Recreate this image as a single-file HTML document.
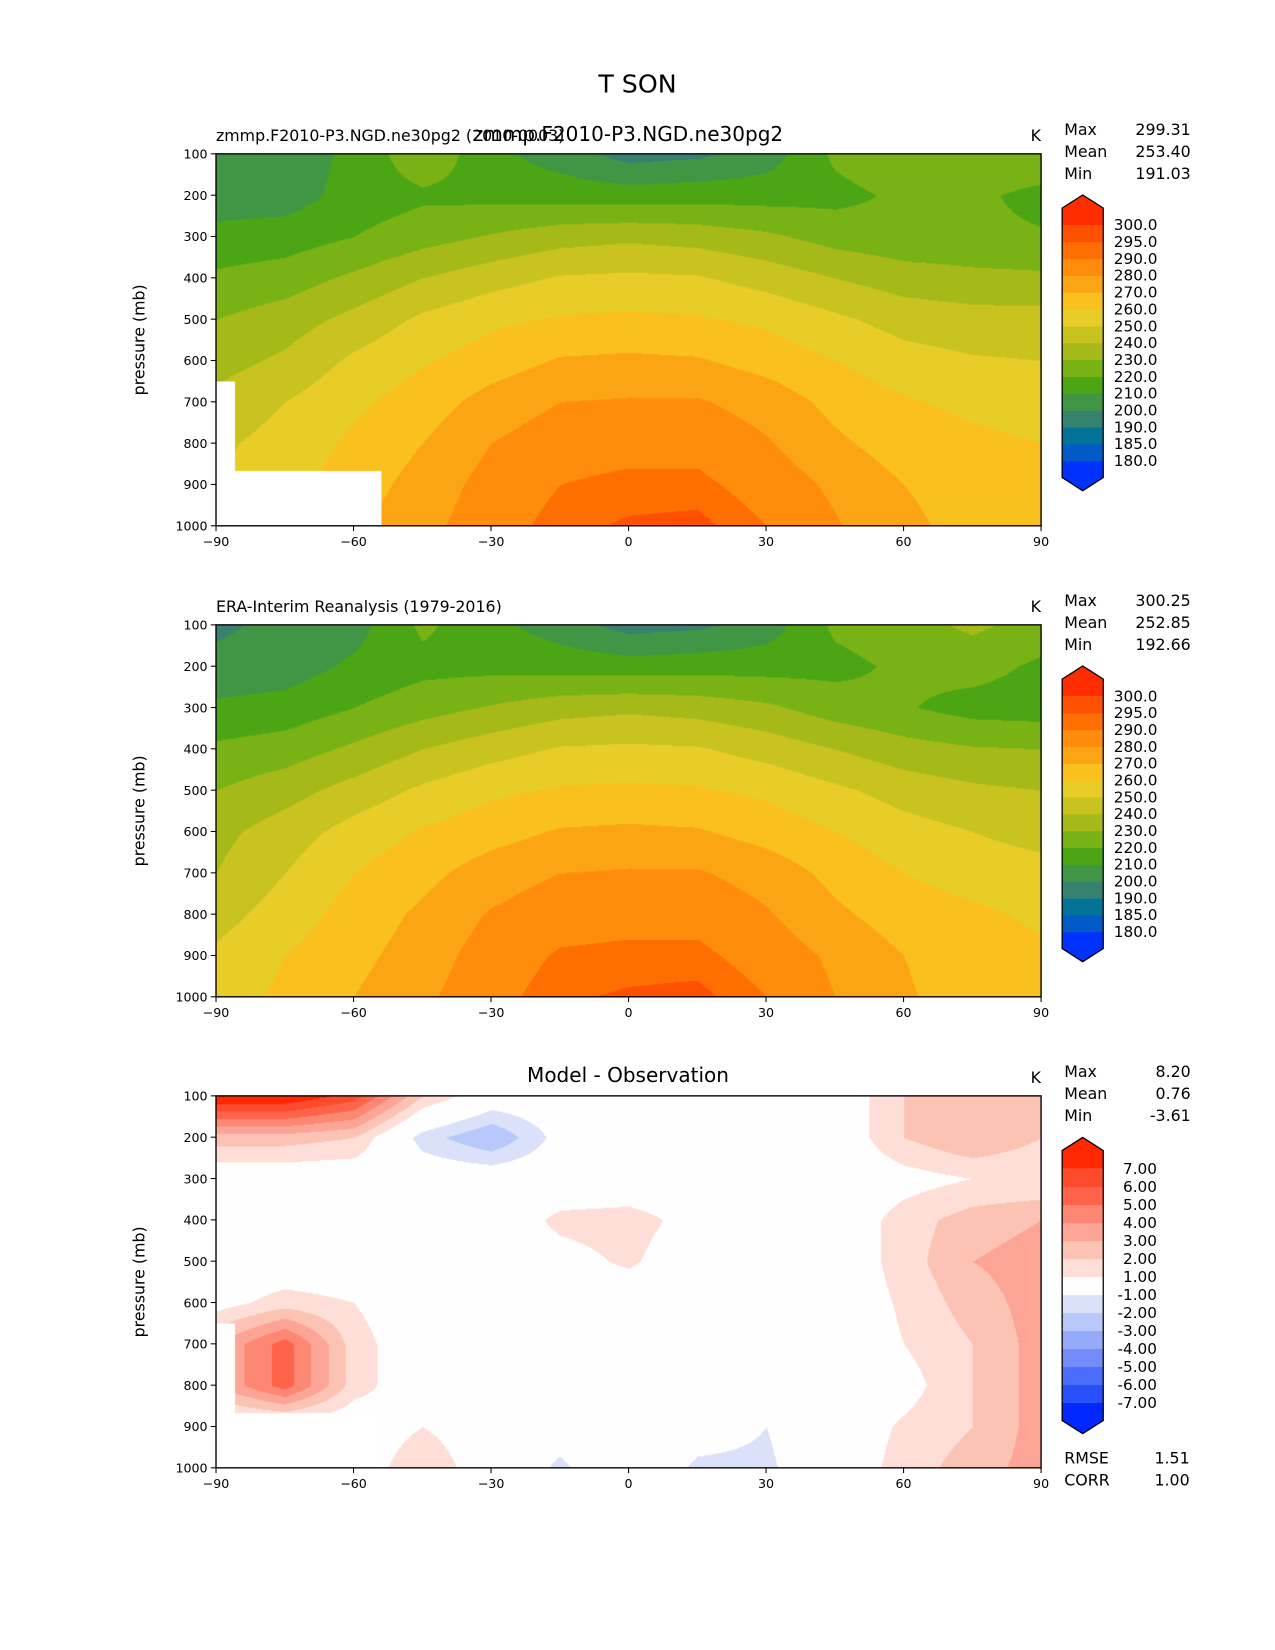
<!DOCTYPE html>
<html><head><meta charset="utf-8"><style>
html,body{margin:0;padding:0;background:#fff;}
#wrap{position:relative;width:1210px;height:1566px;transform:scale(1.05372);transform-origin:0 0;font-family:"DejaVu Sans","Liberation Sans",sans-serif;}
canvas{position:absolute;}
svg{position:absolute;left:0;top:0;}
</style></head><body>
<div id="wrap">
<canvas id="c0" width="783" height="353" style="left:205px;top:146px"></canvas>
<canvas id="c1" width="783" height="353" style="left:205px;top:593px"></canvas>
<canvas id="c2" width="783" height="353" style="left:205px;top:1040px"></canvas>
<svg id="svg" width="1210" height="1566" font-family="DejaVu Sans, Liberation Sans, sans-serif">
<text x="605" y="88" font-size="24" text-anchor="middle">T SON</text>
</svg>
</div>
<script>
const lats=[-90,-75,-60,-45,-30,-15,0,15,30,45,60,75,90];
const pres=[100,200,300,400,500,600,700,800,900,1000];
const modelT=[
[205,205,212,228,213,205,196,198,205,222,228,228,228],
[205,205,214,218,217,216,215,216,216,217,222,222,217],
[213,215,220,226,231,236,238,236,232,226,223,222,221],
[222,225,232,240,246,251,252,251,246,240,235,233,232],
[230,235,243,252,258,261,262,261,258,252,246,244,244],
[236,242,252,259,265,271,272,271,266,260,254,251,250],
[243,250,258,265,274,280,281,281,276,267,261,258,256],
[248,254,262,270,280,286,287,287,281,272,265,262,260],
[250,257,265,274,284,290,292,292,286,278,270,266,262],
[252,259,268,277,286,293,296,297,290,281,272,267,264]];
const obsT=[
[198,203,206,222,213,205,196,198,205,222,226,232,226],
[203,205,212,217,217,216,215,216,216,217,222,224,218],
[212,214,220,226,231,236,238,236,232,225,221,216,215],
[222,225,232,240,246,251,252,251,246,240,234,231,230],
[230,236,244,252,258,261,262,261,258,252,246,242,240],
[237,245,254,261,266,271,272,271,266,260,254,250,246],
[240,250,260,267,275,280,281,281,276,267,260,256,254],
[246,255,264,272,281,286,287,287,281,272,265,262,258],
[252,260,267,275,285,291,292,292,286,278,270,266,262],
[256,262,270,278,287,294,296,297,290,280,271,266,262]];
const diffT=[
[8,8,6.5,2,0,0,0,0,0,0,2,2.5,2],
[2.5,2.5,2,-1.5,-3,-0.5,0,0,-0.5,0,2,3,2],
[0,0,0,0,0,0,0,0,0,0,0.5,1,1],
[0,0,0,0,0,1.3,1.5,0.5,0,0,1.5,2.5,3],
[0,0,0,0,0,0.5,1.2,0,0,0,1.5,3,3.5],
[0.5,1.5,1,0,0,0,0,0,0,0,1.2,2.5,3.5],
[3,5.5,1.5,0,0,0,0,0,0,0,1,2,3.5],
[3,5.5,1.5,0,0,0,0,0,0,0,0.5,2,3.5],
[0,0,0,1,0,-0.5,0,-0.5,-1,0,1.2,2,3.5],
[0,0,0,2,0,-1.2,0,-1.2,-1.2,0,1.5,2.5,3.5]];
const tLevels=[180,185,190,200,210,220,230,240,250,260,270,280,290,295,300];
const tColors=[[0,50,255],[0,90,200],[0,115,150],[55,130,110],[65,150,70],[75,165,20],[120,178,20],[165,185,25],[200,195,30],[232,205,40],[250,192,30],[252,165,20],[255,140,10],[255,110,0],[255,80,0],[255,45,0]];
const dLevels=[-7,-6,-5,-4,-3,-2,-1,1,2,3,4,5,6,7];
const dColors=[[0,40,255],[40,80,250],[75,110,250],[115,140,250],[150,170,250],[185,200,250],[220,225,250],[254,254,254],[254,222,215],[252,195,180],[252,165,150],[252,135,115],[255,100,75],[255,75,45],[255,40,0]];
const panelStats=[["299.31","253.40","191.03"],["300.25","252.85","192.66"],["8.20","0.76","-3.61"]];
const xTicks=[-90,-60,-30,0,30,60,90];
const yTicks=[100,200,300,400,500,600,700,800,900,1000];
const X0=205,W=783,H=353,tops=[146,593,1040];
const xs=lat=>X0+(lat+90)/180*W;
const ys=(p,t)=>t+(p-100)/900*H;
function masked(lat,p){return (p>865&&lat<-54)||(p>650&&lat<-86);}
function val(g,lat,p){
  let fi=(lat+90)/15, fj=(p-100)/100;
  let i=Math.min(11,Math.floor(fi)), j=Math.min(8,Math.floor(fj));
  let a=fi-i,b=fj-j;
  return g[j][i]*(1-a)*(1-b)+g[j][i+1]*a*(1-b)+g[j+1][i]*(1-a)*b+g[j+1][i+1]*a*b;}
function colorFor(v,lv,cs){let k=0;while(k<lv.length&&v>=lv[k])k++;return cs[k];}
function draw(id,g,lv,cs,mask){
  const c=document.getElementById(id),ctx=c.getContext('2d'),im=ctx.createImageData(W,H);
  for(let y=0;y<H;y++){const p=100+y/H*900;
    for(let x=0;x<W;x++){const lat=-90+x/W*180,o=(y*W+x)*4;
      let col=(mask&&masked(lat,p))?[255,255,255]:colorFor(val(g,lat,p),lv,cs);
      im.data[o]=col[0];im.data[o+1]=col[1];im.data[o+2]=col[2];im.data[o+3]=255;}}
  ctx.putImageData(im,0,0);}
draw('c0',modelT,tLevels,tColors,true);
draw('c1',obsT,tLevels,tColors,false);
draw('c2',diffT,dLevels,dColors,true);
const svg=document.getElementById('svg'),NS='http://www.w3.org/2000/svg';
function el(tag,attrs,txt){const e=document.createElementNS(NS,tag);for(const k in attrs)e.setAttribute(k,attrs[k]);if(txt!==undefined)e.textContent=txt;svg.appendChild(e);return e;}
const rgb=c=>`rgb(${c[0]},${c[1]},${c[2]})`;
tops.forEach((t,pi)=>{
  const fr=el('rect',{x:X0,y:t,width:W,height:H,fill:'none',stroke:'#000','stroke-width':1.3});
  
  
  xTicks.forEach(v=>{const x=xs(v);
    el('line',{x1:x,x2:x,y1:t+H,y2:t+H+5,stroke:'#000'});
    const tx=el('text',{x:x,y:t+H+19,'font-size':12,'text-anchor':'middle'},v<0?'\u2212'+(-v):String(v));
    
    });
  yTicks.forEach(v=>{const y=ys(v,t);
    el('line',{x1:X0-5,x2:X0,y1:y,y2:y,stroke:'#000'});
    const tx=el('text',{x:X0-8,y:y+4.5,'font-size':12,'text-anchor':'end'},String(v));
    
    });
  const yl=el('text',{x:0,y:0,'font-size':15,'text-anchor':'middle',transform:`translate(137,${t+H/2}) rotate(-90)`},'pressure (mb)');
  
  
  const k=el('text',{x:983,y:t-12,'font-size':15,'text-anchor':'middle'},'K');
  
  
  ['Max','Mean','Min'].forEach((s,i)=>{
    const a=el('text',{x:1010,y:t-18+i*21,'font-size':15},s);
    
    
    const b=el('text',{x:1130,y:t-18+i*21,'font-size':15,'text-anchor':'end'},panelStats[pi][i]);
    
    });
  const isD=pi===2, lv=isD?dLevels:tLevels, cs=isD?dColors:tColors;
  const cx0=1008,cx1=1047;
  const top=isD?t+69:t+67.5, bot=isD?t+291:t+291.2;
  const n=lv.length, step=(bot-top)/(n-1), ext=step, tip=12.5;
  for(let k2=0;k2<=n;k2++){
    let y0,y1;
    if(k2===0){y0=bot;y1=bot+ext;} else if(k2===n){y0=top-ext;y1=top;} else {y1=bot-(k2-1)*step;y0=y1-step;}
    if(k2===0){const pg=el('polygon',{points:`${cx0},${bot} ${cx1},${bot} ${cx1},${bot+ext} ${(cx0+cx1)/2},${bot+ext+tip} ${cx0},${bot+ext}`,fill:rgb(cs[0])});
      }
    else if(k2===n){const pg=el('polygon',{points:`${cx0},${top} ${cx1},${top} ${cx1},${top-ext} ${(cx0+cx1)/2},${top-ext-tip} ${cx0},${top-ext}`,fill:rgb(cs[n])});
      }
    else {const r=el('rect',{x:cx0,y:y0,width:cx1-cx0,height:y1-y0+0.5,fill:rgb(cs[k2])});
      }
  }
  el('polygon',{points:`${cx0},${top-ext} ${(cx0+cx1)/2},${top-ext-tip} ${cx1},${top-ext} ${cx1},${bot+ext} ${(cx0+cx1)/2},${bot+ext+tip} ${cx0},${bot+ext}`,fill:'none',stroke:'#000','stroke-width':1.2});
  lv.forEach((v,i)=>{const y=bot-i*step;
    const tl=el('text',{x:isD?1098:1057,y:y+5,'font-size':14.5,'text-anchor':isD?'end':'start'},isD?v.toFixed(2):v.toFixed(1));
    
    });
});
const s1=el('text',{x:205,y:134,'font-size':15},'zmmp.F2010-P3.NGD.ne30pg2 (2010-0003)');

const s2=el('text',{x:596,y:134,'font-size':19,'text-anchor':'middle'},'zmmp.F2010-P3.NGD.ne30pg2');

const s3=el('text',{x:205,y:581,'font-size':15},'ERA-Interim Reanalysis (1979-2016)');

const s4=el('text',{x:596,y:1027,'font-size':19,'text-anchor':'middle'},'Model - Observation');

[['RMSE','1.51'],['CORR','1.00']].forEach((r,i)=>{
  const a=el('text',{x:1010,y:1389+i*21,'font-size':15},r[0]);
  
  const b=el('text',{x:1129,y:1389+i*21,'font-size':15,'text-anchor':'end'},r[1]);
  });
</script>
</body></html>
